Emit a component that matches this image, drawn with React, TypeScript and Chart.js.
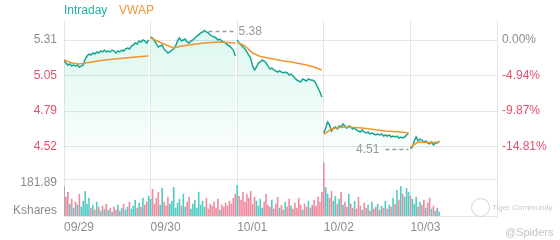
import React, { useEffect, useRef } from 'react';
import { Chart, registerables } from 'chart.js';

Chart.register(...registerables);

// ---------- data ----------
const dayLabels = ['09/29', '09/30', '10/01', '10/02', '10/03'];
const prevClose = 5.31;
const pctTicks = [0, -4.94, -9.87, -14.81];
const volGridValue = 181.89;
const volUnitLabel = 'Kshares';
const highValue = 5.38;
const lowValue = 4.51;

const day1Price = [5.163, 5.14, 5.126, 5.133, 5.118, 5.126, 5.118, 5.126, 5.111, 5.118, 5.126, 5.17, 5.192, 5.207, 5.199, 5.214, 5.207, 5.222, 5.214, 5.229, 5.222, 5.236, 5.222, 5.229, 5.222, 5.236, 5.229, 5.214, 5.229, 5.222, 5.236, 5.229, 5.244, 5.251, 5.244, 5.266, 5.273, 5.288, 5.281, 5.303, 5.295, 5.31, 5.303, 5.288, 5.31];
const day2Price = [5.332, 5.325, 5.303, 5.281, 5.258, 5.266, 5.273, 5.244, 5.229, 5.214, 5.222, 5.236, 5.244, 5.266, 5.303, 5.325, 5.303, 5.31, 5.317, 5.295, 5.288, 5.303, 5.31, 5.325, 5.339, 5.347, 5.362, 5.369, 5.38, 5.369, 5.362, 5.347, 5.339, 5.332, 5.325, 5.31, 5.317, 5.303, 5.295, 5.288, 5.273, 5.266, 5.251, 5.236, 5.192];
const day3Price = [5.31, 5.288, 5.273, 5.258, 5.244, 5.222, 5.199, 5.177, 5.118, 5.089, 5.111, 5.14, 5.148, 5.163, 5.155, 5.14, 5.118, 5.096, 5.104, 5.089, 5.082, 5.074, 5.082, 5.074, 5.067, 5.074, 5.067, 5.052, 5.059, 5.045, 5.03, 5.015, 5.008, 5.0, 5.023, 5.015, 5.008, 5.023, 5.015, 5.015, 5.008, 4.986, 4.956, 4.927, 4.89];
const day4Price = [4.625, 4.661, 4.706, 4.684, 4.639, 4.661, 4.669, 4.654, 4.676, 4.669, 4.691, 4.676, 4.661, 4.676, 4.669, 4.654, 4.661, 4.647, 4.639, 4.632, 4.647, 4.632, 4.625, 4.632, 4.617, 4.625, 4.617, 4.61, 4.617, 4.61, 4.617, 4.602, 4.61, 4.602, 4.61, 4.595, 4.602, 4.595, 4.602, 4.588, 4.595, 4.588, 4.595, 4.61, 4.625];
const day5Price = [4.51, 4.521, 4.566, 4.595, 4.566, 4.58, 4.573, 4.558, 4.566, 4.551, 4.544, 4.558, 4.536, 4.551, 4.551, 4.566];

const vwapIdxFull = [0, 4, 8, 12, 16, 20, 24, 28, 32, 36, 40, 44];
const vwapIdxLast = [0, 4, 8, 12, 15];
const day1Vwap = [5.163, 5.14, 5.133, 5.142, 5.152, 5.16, 5.166, 5.172, 5.177, 5.183, 5.189, 5.193];
const day2Vwap = [5.325, 5.299, 5.273, 5.251, 5.266, 5.273, 5.281, 5.288, 5.292, 5.295, 5.292, 5.288];
const day3Vwap = [5.295, 5.266, 5.214, 5.188, 5.177, 5.166, 5.155, 5.148, 5.137, 5.126, 5.111, 5.089];
const day4Vwap = [4.617, 4.654, 4.665, 4.669, 4.665, 4.661, 4.654, 4.647, 4.639, 4.636, 4.632, 4.625];
const day5Vwap = [4.521, 4.558, 4.554, 4.554, 4.558];

const day1Vol = [150, 95, 120, 60, 85, 40, 70, 55, 110, 45, 75, 125, 60, 90, 40, 55, 30, 70, 45, 25, 50, 35, 60, 28, 40, 20, 45, 30, 55, 25, 38, 60, 30, 45, 70, 35, 50, 80, 40, 65, 45, 90, 55, 70, 100];
const day2Vol = [85, 135, 60, 90, 120, 55, 140, 70, 50, 95, 60, 75, 145, 40, 65, 85, 50, 110, 45, 70, 95, 35, 60, 80, 40, 120, 55, 75, 45, 90, 35, 60, 50, 70, 40, 85, 30, 55, 45, 65, 50, 75, 60, 90, 110];
const day3Vol = [155, 100, 80, 120, 70, 110, 90, 125, 60, 95, 75, 50, 85, 40, 70, 110, 55, 45, 80, 35, 60, 95, 40, 55, 30, 70, 45, 85, 50, 35, 65, 40, 90, 55, 30, 60, 45, 75, 40, 55, 80, 50, 95, 70, 120];
const day4Vol = [268, 145, 110, 90, 125, 75, 100, 60, 85, 120, 55, 70, 45, 110, 60, 40, 75, 35, 95, 50, 30, 65, 40, 55, 25, 70, 35, 45, 60, 30, 50, 40, 75, 35, 55, 45, 90, 60, 130, 80, 150, 110, 95, 140, 120];
const day5Vol = [100, 85, 60, 95, 45, 70, 55, 80, 40, 65, 90, 35, 50, 25, 40, 20];

// ---------- layout constants ----------
const SLOTS = 45;
const PRICE_MIN = 4.0129;
const PRICE_MAX = 5.4574;
const TOP_PAD = 20;
const X_AXIS_H = 24;
const CANVAS_W = 560;
const CANVAS_H = 240;
const PLOT_H = CANVAS_H - TOP_PAD - X_AXIS_H;
const VOL_PANEL_PX = 36;
const VOL_MAX = (volGridValue * PLOT_H) / VOL_PANEL_PX;
const PRICE_PER_PX = (PRICE_MAX - PRICE_MIN) / PLOT_H;

const GRID = '#e6e6e6';
const GREY = '#8c8c8c';
const RED = '#e5506c';
const TEAL = '#17a593';
const ORANGE = '#f0962f';
const FONT = 'Arial, "Liberation Sans", sans-serif';

const priceDays = [day1Price, day2Price, day3Price, day4Price, day5Price];
const vwapDays = [day1Vwap, day2Vwap, day3Vwap, day4Vwap, day5Vwap];
const vwapIdx = [vwapIdxFull, vwapIdxFull, vwapIdxFull, vwapIdxFull, vwapIdxLast];
const volDays = [day1Vol, day2Vol, day3Vol, day4Vol, day5Vol];

function buildPricePts() {
  const pts: { x: number; y: number | null }[] = [];
  priceDays.forEach((arr, d) => {
    arr.forEach((v, i) => pts.push({ x: d * SLOTS + i, y: v }));
    if (d < priceDays.length - 1) pts.push({ x: d * SLOTS + SLOTS - 0.5, y: null });
  });
  return pts;
}
function buildVwapPts() {
  const pts: { x: number; y: number | null }[] = [];
  vwapDays.forEach((arr, d) => {
    arr.forEach((v, k) => pts.push({ x: d * SLOTS + vwapIdx[d][k], y: v }));
    if (d < vwapDays.length - 1) pts.push({ x: d * SLOTS + SLOTS - 0.5, y: null });
  });
  return pts;
}
function buildVol() {
  const pts: { x: number; y: number }[] = [];
  const colors: string[] = [];
  volDays.forEach((arr, d) => {
    arr.forEach((v, i) => {
      pts.push({ x: d * SLOTS + i, y: v });
      const p = priceDays[d];
      const prev = i > 0 ? p[i - 1] : d > 0 ? priceDays[d - 1][priceDays[d - 1].length - 1] : p[0];
      const diff = p[i] - prev;
      colors.push(diff > 0.0005 ? 'rgba(64,200,190,0.9)' : diff < -0.0005 ? 'rgba(240,128,150,0.9)' : 'rgba(150,150,165,0.9)');
    });
  });
  return { pts, colors };
}

const extremesPlugin = {
  id: 'extremes',
  afterDatasetsDraw(chart: any) {
    const { ctx, scales } = chart;
    const x = scales.x;
    const y = scales.y;
    let hi = { x: 0, y: -Infinity };
    let lo = { x: 0, y: Infinity };
    priceDays.forEach((arr, d) =>
      arr.forEach((v, i) => {
        if (v > hi.y) hi = { x: d * SLOTS + i, y: v };
        if (v < lo.y) lo = { x: d * SLOTS + i, y: v };
      })
    );
    ctx.save();
    ctx.strokeStyle = '#9a9a9a';
    ctx.lineWidth = 1.5;
    ctx.setLineDash([4, 3]);
    ctx.font = `12px ${FONT}`;
    ctx.fillStyle = '#999999';
    ctx.textBaseline = 'middle';
    const hx = x.getPixelForValue(hi.x);
    const hy = Math.round(y.getPixelForValue(highValue)) + 0.5;
    ctx.beginPath();
    ctx.moveTo(hx + 4, hy);
    ctx.lineTo(hx + 29, hy);
    ctx.stroke();
    ctx.textAlign = 'left';
    ctx.fillText(highValue.toFixed(2), hx + 34, hy);
    const lx = x.getPixelForValue(lo.x);
    const ly = Math.round(y.getPixelForValue(lowValue)) + 0.5;
    ctx.beginPath();
    ctx.moveTo(lx - 25, ly);
    ctx.lineTo(lx - 2, ly);
    ctx.stroke();
    ctx.textAlign = 'right';
    ctx.fillText(lowValue.toFixed(2), lx - 31, ly);
    ctx.restore();
  },
};

export default function App() {
  const ref = useRef<HTMLCanvasElement | null>(null);

  useEffect(() => {
    if (!ref.current) return;
    const pricePts = buildPricePts();
    const vwapPts = buildVwapPts();
    const vol = buildVol();
    const pctMin = (PRICE_MIN / prevClose - 1) * 100;
    const pctMax = (PRICE_MAX / prevClose - 1) * 100;

    // left axis: price ticks + volume-panel labels (volume grid mapped onto the same pixel axis)
    const volGridAsPrice = PRICE_MIN + (volGridValue / VOL_MAX) * (PRICE_MAX - PRICE_MIN);
    const leftTicks: { value: number; label: string; color: string; grid: boolean }[] = [
      ...pctTicks.map((p, i) => {
        const v = prevClose * (1 + p / 100);
        return { value: v, label: v.toFixed(2), color: i === 0 ? GREY : RED, grid: true };
      }),
      { value: volGridAsPrice, label: '', color: GREY, grid: true },
      { value: volGridAsPrice - 3 * PRICE_PER_PX, label: volGridValue.toFixed(2), color: GREY, grid: false },
      { value: PRICE_MIN + 5.5 * PRICE_PER_PX, label: volUnitLabel, color: GREY, grid: false },
    ];

    const chart = new Chart(ref.current, {
      type: 'line',
      data: {
        datasets: [
          {
            type: 'line',
            label: 'Intraday',
            data: pricePts,
            borderColor: TEAL,
            borderWidth: 1.5,
            pointRadius: 0,
            tension: 0,
            spanGaps: false,
            fill: { value: 4.5 },
            backgroundColor: (c: any) => {
              const { chart: ch } = c;
              const area = ch.chartArea;
              if (!area) return 'rgba(40,210,150,0.12)';
              const yb = ch.scales.y.getPixelForValue(4.5);
              const g = ch.ctx.createLinearGradient(0, area.top, 0, yb);
              g.addColorStop(0, 'rgba(40,210,150,0.17)');
              g.addColorStop(1, 'rgba(40,210,150,0.03)');
              return g;
            },
            yAxisID: 'y',
            order: 2,
          } as any,
          {
            type: 'line',
            label: 'VWAP',
            data: vwapPts,
            borderColor: ORANGE,
            borderWidth: 1.5,
            pointRadius: 0,
            tension: 0,
            spanGaps: false,
            fill: false,
            yAxisID: 'y',
            order: 1,
          } as any,
          {
            type: 'bar',
            label: 'Volume',
            data: vol.pts,
            backgroundColor: vol.colors,
            borderWidth: 0,
            barThickness: 1,
            grouped: false,
            yAxisID: 'yVol',
            order: 3,
          } as any,
        ],
      },
      options: {
        animation: false,
        responsive: false,
        maintainAspectRatio: false,
        layout: { padding: { top: TOP_PAD, left: 0, right: 0, bottom: 0 } },
        plugins: { legend: { display: false }, tooltip: { enabled: false } },
        scales: {
          x: {
            type: 'linear',
            offset: false,
            min: 0,
            max: SLOTS * dayLabels.length,
            afterBuildTicks: (s: any) => {
              s.ticks = [0, 1, 2, 3, 4, 5].map((k) => ({ value: k * SLOTS }));
            },
            afterFit: (s: any) => {
              s.height = X_AXIS_H;
            },
            ticks: {
              autoSkip: false,
              maxRotation: 0,
              minRotation: 0,
              align: 'start',
              padding: 4,
              color: GREY,
              font: { family: FONT, size: 12 },
              callback: (v: any) => dayLabels[Math.round(Number(v) / SLOTS)] ?? '',
            },
            grid: { color: GRID, drawTicks: false, offset: false },
            border: { display: true, color: GRID },
          },
          y: {
            type: 'linear',
            position: 'left',
            min: PRICE_MIN,
            max: PRICE_MAX,
            afterBuildTicks: (s: any) => {
              s.ticks = leftTicks.map((t) => ({ value: t.value }));
            },
            afterFit: (s: any) => {
              s.width = 64;
            },
            ticks: {
              padding: 7,
              font: { family: FONT, size: 12 },
              color: (c: any) => leftTicks[c.index]?.color ?? GREY,
              callback: (_v: any, i: number) => leftTicks[i]?.label ?? '',
            },
            grid: {
              drawTicks: false,
              color: (c: any) => (leftTicks[c.index]?.grid ? GRID : 'rgba(0,0,0,0)'),
            },
            border: { display: false },
          },
          yVol: {
            type: 'linear',
            display: false,
            min: 0,
            max: VOL_MAX,
          },
          yPct: {
            type: 'linear',
            position: 'right',
            min: pctMin,
            max: pctMax,
            afterBuildTicks: (s: any) => {
              s.ticks = pctTicks.map((v) => ({ value: v }));
            },
            afterFit: (s: any) => {
              s.width = 63;
            },
            ticks: {
              padding: 5,
              font: { family: FONT, size: 12 },
              color: (c: any) => (c.index === 0 ? GREY : RED),
              callback: (v: any) => Number(v).toFixed(2) + '%',
            },
            grid: { display: false, drawTicks: false },
            border: { display: false },
          },
        },
      } as any,
      plugins: [extremesPlugin],
    });
    return () => chart.destroy();
  }, []);

  return (
    <div style={{ position: 'absolute', left: 0, top: 0, width: CANVAS_W, height: CANVAS_H, background: '#fff', fontFamily: FONT }}>
      <canvas ref={ref} width={CANVAS_W} height={CANVAS_H} style={{ display: 'block' }} />
      <span style={{ position: 'absolute', left: 64, top: 3, fontSize: 12, lineHeight: '14px', color: '#25ad9f' }}>Intraday</span>
      <span style={{ position: 'absolute', left: 119, top: 3, fontSize: 12, lineHeight: '14px', color: '#f0963a' }}>VWAP</span>
      <div style={{ position: 'absolute', left: 471, top: 198, width: 17, height: 17, borderRadius: '50%', border: '1px solid #d4d4d4' }} />
      <span style={{ position: 'absolute', left: 492, top: 203, fontSize: 8, lineHeight: '10px', color: '#c8c8c8' }}>Tiger Community</span>
      <span style={{ position: 'absolute', left: 505, top: 226, fontSize: 11, lineHeight: '13px', color: '#c4c4c4' }}>@Spiders</span>
    </div>
  );
}
